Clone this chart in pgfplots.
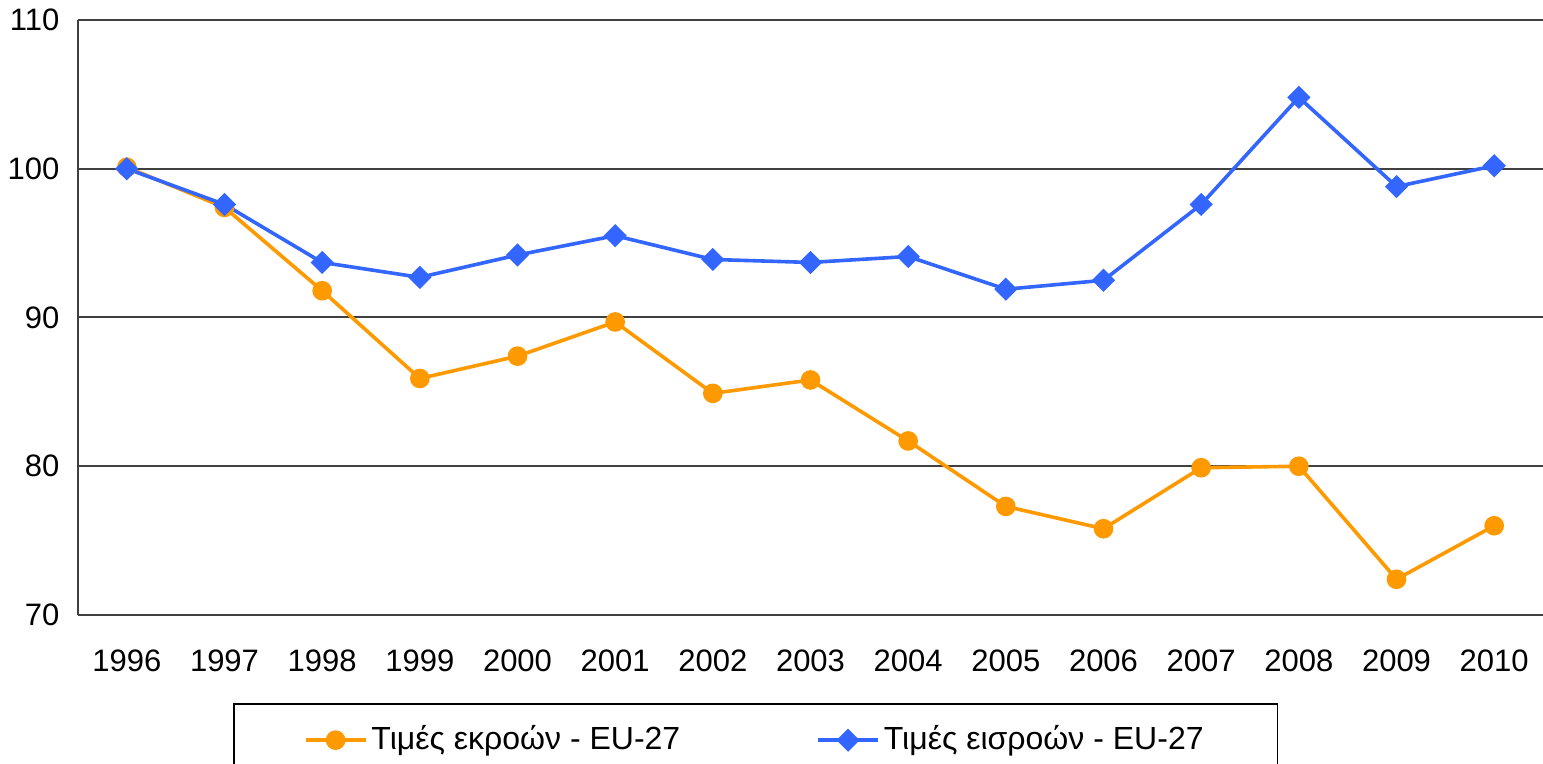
\documentclass[border=0pt]{standalone}
\usepackage{pgfplots}
\pgfplotsset{compat=1.18}
\usepackage{fontspec}
\setmainfont{Liberation Sans}
\definecolor{outc}{HTML}{FF9900}
\definecolor{inc}{HTML}{3366FF}
\definecolor{gridc}{HTML}{404040}
\begin{document}
\fontsize{15.5pt}{18pt}\selectfont
\begin{tikzpicture}
\begin{axis}[
  at={(0,0)}, anchor=south west,
  scale only axis, width=732.5pt, height=297.5pt,
  xmin=-0.5, xmax=14.5, ymin=70, ymax=110,
  xtick={0,...,14},
  xticklabels={1996,1997,1998,1999,2000,2001,2002,2003,2004,2005,2006,2007,2008,2009,2010},
  ytick={70,80,90,100,110},
  axis lines=left,
  axis line style={-, gridc, line width=1.1pt},
  major tick length=0pt,
  ymajorgrids, grid style={gridc, line width=1pt},
  /pgf/number format/assume math mode=true,
  tick label style={font=\fontsize{15.5pt}{18pt}\selectfont},
  xticklabel style={yshift=-12pt},
  yticklabel style={xshift=-4pt},
  legend columns=2,
  legend style={at={(axis description cs:0.1058,-0.1479)}, anchor=north west,
    draw=black, line width=0.8pt, inner xsep=35pt, inner ysep=9pt,
    font=\fontsize{16pt}{19pt}\selectfont,
    /tikz/every even column/.append style={column sep=66pt}},
  legend image code/.code={
    \draw[#1, line width=1.8pt] (0pt,0pt) -- (30pt,0pt);
    \draw[#1, only marks] plot coordinates {(15pt,0pt)};
  },
]
\addplot[outc, line width=1.8pt, mark=*, mark size=4pt, mark options={solid, fill=outc, draw=outc}]
  coordinates {(0,100.1)(1,97.4)(2,91.8)(3,85.9)(4,87.4)(5,89.7)(6,84.9)(7,85.8)(8,81.7)(9,77.3)(10,75.8)(11,79.9)(12,80.0)(13,72.4)(14,76.0)};
\addlegendentry{Τιμές εκροών - EU-27}
\addplot[inc, line width=1.8pt, mark=square*, mark size=3.2pt, mark options={solid, rotate=45, fill=inc, draw=inc}]
  coordinates {(0,100.0)(1,97.6)(2,93.7)(3,92.7)(4,94.2)(5,95.5)(6,93.9)(7,93.7)(8,94.1)(9,91.9)(10,92.5)(11,97.6)(12,104.8)(13,98.8)(14,100.2)};
\addlegendentry{Τιμές εισροών - EU-27}
\end{axis}
\pgfresetboundingbox
\useasboundingbox (-39pt,-74.5pt) rectangle (732.5pt,307.5pt);
\end{tikzpicture}
\end{document}
